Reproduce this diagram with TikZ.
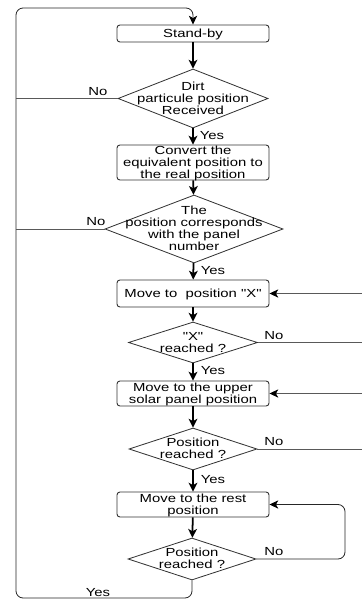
\documentclass[tikz,border=0pt]{standalone}
\usepackage{fontspec}
\newfontfamily\diagfont[FakeStretch=1.27]{Liberation Sans}
\usetikzlibrary{shapes.geometric,arrows.meta}
\newcommand\ztext[1]{\raisebox{-0.36em}[0pt][0pt]{\makebox[0pt]{\begin{tabular}{@{}c@{}}#1\end{tabular}}}}
\begin{document}
\begin{tikzpicture}[x=0.03cm,y=-0.03cm,
  every node/.style={font=\diagfont\fontsize{10}{10.24}\selectfont},
  box/.style={draw=black!80, line width=0.8pt, rounded corners=2.5pt, minimum width=4.56cm, inner sep=0pt},
  dec/.style={draw=black!80, line width=0.7pt, diamond, inner sep=0pt},
  main/.style={line width=1.5pt, -{Stealth[length=7.5pt,width=7.5pt,inset=2pt]}},
  fb/.style={line width=0.7pt, draw=black!65},
  fba/.style={fb, -{Stealth[length=7.5pt,width=7pt,inset=2pt,black]}},
  lbl/.style={inner sep=0pt}]
\useasboundingbox (0,0) rectangle (361,600);
\coordinate (Lx) at (16,0);
\coordinate (Rx) at (364,0);
\coordinate (Rl) at (345,0);
\coordinate (Bot) at (0,598);
\coordinate (Top) at (0,8);

\node[box, minimum height=0.51cm] (b1) at (193,33.5) {\ztext{Stand-by}};
\node[dec, minimum width=4.5cm, minimum height=1.77cm] (d1) at (193,98.5) {\ztext{Dirt\\particule position\\Received}};
\node[box, minimum height=1.05cm] (b2) at (193,162.5) {\ztext{Convert the\\equivalent position to\\the real position}};
\node[dec, minimum width=5.34cm, minimum height=2.04cm] (d2) at (194,229) {\ztext{The\\position corresponds\\with the panel\\number}};
\node[box, minimum height=0.81cm] (b3) at (193,293.5) {\ztext{Move to\ \ position "X"}};
\node[dec, minimum width=3.87cm, minimum height=1.23cm] (d3) at (193,342.5) {\ztext{"X"\\reached ?}};
\node[box, minimum height=0.75cm] (b4) at (193,393.5) {\ztext{Move to the upper\\solar panel position}};
\node[dec, minimum width=3.84cm, minimum height=1.26cm] (d4) at (193,449) {\ztext{Position\\reached ?}};
\node[box, minimum height=0.75cm] (b5) at (193,504.5) {\ztext{Move to the rest\\position}};
\node[dec, minimum width=3.84cm, minimum height=1.26cm] (d5) at (192,559) {\ztext{Position\\reached ?}};

\draw[main] (b1) -- (d1);
\draw[main] (d1) -- (b2);
\draw[main] (b2) -- (d2);
\draw[main] (d2) -- (b3);
\draw[main] (b3) -- (d3);
\draw[main] (d3) -- (b4);
\draw[main] (b4) -- (d4);
\draw[main] (d4) -- (b5);
\draw[main] (b5) -- (d5);

\draw[fba, draw=black!85, rounded corners=6pt] (d5.south) -- (d5.south |- Bot) -- (Lx |- Bot) -- (Lx |- Top) -- (b1.north |- Top) -- (b1.north);
\draw[fb] (d1.west) -- (d1.west -| Lx);
\draw[fb] (d2.west) -- (d2.west -| Lx);
\draw[fba] (d3.east) -- (d3.east -| Rx) -- (b3.east -| Rx) -- (b3.east);
\draw[fba] (d4.east) -- (d4.east -| Rx) -- (b4.east -| Rx) -- (b4.east);
\draw[fba, draw=black!85, rounded corners=6pt] (d5.east) -- (d5.east -| Rl) -- (b5.east -| Rl) -- (b5.east);

\node[lbl] (n1) at (98,92) {No};
\node[lbl] (n2) at (96,222) {No};
\node[lbl] (n3) at (274,336) {No};
\node[lbl] (n4) at (274,442) {No};
\node[lbl] (n5) at (274,552) {No};
\node[lbl] (y1) at (212,136) {Yes};
\node[lbl] (y2) at (213,271) {Yes};
\node[lbl] (y3) at (213,371) {Yes};
\node[lbl] (y4) at (213,480) {Yes};
\node[lbl] (y5) at (98,593) {Yes};
\end{tikzpicture}
\end{document}
